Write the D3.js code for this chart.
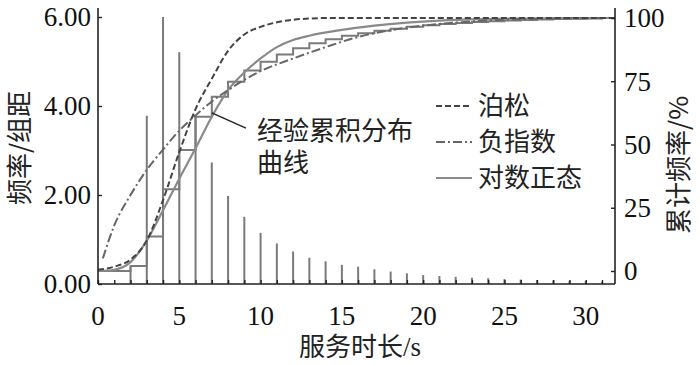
<!DOCTYPE html>
<html>
<head>
<meta charset="utf-8">
<script src="https://cdn.jsdelivr.net/npm/d3@7"></script>
<style>
  body { margin: 0; background: #fff; }
  .tick-num { font-family: "Liberation Serif", "DejaVu Serif", serif; font-size: 27px; fill: #111; }
  .cjk { font-family: "Noto Sans CJK SC", sans-serif; font-size: 26px; fill: #222; }
  .serif { font-family: "Liberation Serif", serif; }
</style>
</head>
<body>
<div id="chart"></div>
<script>
// service time bins (s) and frequency / bin width
var binX = [2, 3, 4, 5, 6, 7, 8, 9, 10, 11, 12, 13, 14, 15, 16, 17, 18, 19, 20, 21, 22, 23, 24, 25, 26, 27, 28, 29, 30, 31];
var binFreq = [0.38, 3.78, 6.0, 5.21, 3.8, 2.73, 1.98, 1.51, 1.15, 0.91, 0.73, 0.59, 0.51, 0.43, 0.39, 0.33, 0.28, 0.24, 0.2, 0.18, 0.16, 0.14, 0.13, 0.11, 0.10, 0.09, 0.08, 0.07, 0.07, 0.05];

// empirical cumulative distribution (%), step after each x
var ecdfX = [0, 2, 3, 4, 5, 6, 7, 8, 9, 10, 11, 12, 13, 14, 15, 16, 17, 18, 19, 20, 21, 22, 23, 24, 25, 26, 27, 28, 29, 30, 31, 31.8];
var ecdfY = [0, 2, 13.6, 32.3, 47.8, 61, 68.9, 74.8, 79.2, 82.7, 85.6, 88, 90, 91.6, 93, 94, 95, 95.8, 96.5, 97.1, 97.6, 98, 98.4, 98.7, 99, 99.2, 99.4, 99.6, 99.7, 99.85, 100, 100];

// fitted cumulative curves (%)
var poissonX = [0, 1, 2, 3, 4, 5, 6, 7, 8, 9, 10, 11, 12, 13, 14, 16, 20, 31.8];
var poissonY = [0.5, 1.7, 4.5, 12, 28, 47, 64, 76, 87, 93.5, 96.5, 98.3, 99.3, 99.8, 100, 100, 100, 100];

var expX = [0.3, 1, 2, 3, 4, 5, 6, 7, 8, 9, 10, 12, 14, 16, 18, 20, 22, 24, 26, 28, 31.8];
var expY = [5, 18, 30, 40, 48, 55.5, 61.5, 67, 71.5, 75.5, 79, 84, 88.5, 92.5, 95.2, 97, 98.2, 99, 99.5, 99.8, 100];

var lognX = [0, 1, 2, 3, 4, 5, 6, 7, 8, 9, 10, 11, 12, 13, 15, 17, 19, 21, 24, 28, 31.8];
var lognY = [0, 0.5, 3.5, 12, 24, 36.5, 48.5, 61, 71.5, 78.5, 84, 88.5, 91.3, 93, 95.3, 97, 98.2, 99, 99.6, 99.9, 100];

var leftTicks = [0, 2, 4, 6];
var rightTicks = [0, 25, 50, 75, 100];
var xTicks = [0, 5, 10, 15, 20, 25, 30];

var legendNames = ["泊松", "负指数", "对数正态"];

var width = 700, height = 365;

var svg = d3.select("#chart").append("svg")
    .attr("width", width)
    .attr("height", height);

// scales
var x = d3.scaleLinear().domain([0, 31.8]).range([98, 615]);
var yL = d3.scaleLinear().domain([0, 6]).range([284, 17]);
var yR = d3.scaleLinear().domain([0, 100]).range([271, 18]);

var axisTop = 8;

// histogram bars (vertical lines)
svg.selectAll(".bar")
    .data(binX)
    .enter().append("line")
    .attr("class", "bar")
    .attr("x1", function(d){ return x(d); })
    .attr("x2", function(d){ return x(d); })
    .attr("y1", yL(0))
    .attr("y2", function(d, i){ return yL(binFreq[i]); })
    .attr("stroke", "#7a7a7a")
    .attr("stroke-width", 2);

function pts(xs, ys){
    return xs.map(function(d, i){ return [d, ys[i]]; });
}

var stepLine = d3.line()
    .x(function(d){ return x(d[0]); })
    .y(function(d){ return yR(d[1]); })
    .curve(d3.curveStepAfter);

var smoothLine = d3.line()
    .x(function(d){ return x(d[0]); })
    .y(function(d){ return yR(d[1]); })
    .curve(d3.curveMonotoneX);

svg.append("path")
    .attr("d", stepLine(pts(ecdfX, ecdfY)))
    .attr("fill", "none")
    .attr("stroke", "#7a7a7a")
    .attr("stroke-width", 2);

svg.append("path")
    .attr("d", smoothLine(pts(lognX, lognY)))
    .attr("fill", "none")
    .attr("stroke", "#8a8a8a")
    .attr("stroke-width", 2.2);

svg.append("path")
    .attr("d", smoothLine(pts(expX, expY)))
    .attr("fill", "none")
    .attr("stroke", "#666")
    .attr("stroke-width", 2)
    .attr("stroke-dasharray", "9,3,2,3");

svg.append("path")
    .attr("d", smoothLine(pts(poissonX, poissonY)))
    .attr("fill", "none")
    .attr("stroke", "#444")
    .attr("stroke-width", 2)
    .attr("stroke-dasharray", "6,3");

// axes frame
var frame = svg.append("g").attr("stroke", "#222").attr("stroke-width", 1.6);
frame.append("line").attr("x1", x(0)).attr("x2", x(0)).attr("y1", axisTop).attr("y2", yL(0));
frame.append("line").attr("x1", x(31.8)).attr("x2", x(31.8)).attr("y1", axisTop).attr("y2", yL(0));
frame.append("line").attr("x1", x(0)).attr("x2", x(31.8)).attr("y1", yL(0)).attr("y2", yL(0));

// x axis: ticks inward every 1 s, labels every 5
var xAxis = d3.axisBottom(x)
    .tickValues(d3.range(0, 32, 1))
    .tickSizeInner(-4)
    .tickSizeOuter(0)
    .tickFormat("");
var gx = svg.append("g").attr("transform", "translate(0," + yL(0) + ")").call(xAxis);
gx.select(".domain").remove();
gx.selectAll("line").attr("stroke", "#222").attr("stroke-width", 1.4);

svg.selectAll(".xlab")
    .data(xTicks)
    .enter().append("text")
    .attr("class", "tick-num")
    .attr("x", function(d){ return x(d); })
    .attr("y", 325)
    .attr("text-anchor", "middle")
    .text(function(d){ return d; });

// left axis
var gl = svg.append("g").attr("transform", "translate(" + x(0) + ",0)")
    .call(d3.axisRight(yL).tickValues(leftTicks).tickSizeInner(4).tickSizeOuter(0).tickFormat(""));
gl.select(".domain").remove();
gl.selectAll("line").attr("stroke", "#222").attr("stroke-width", 1.4);

svg.selectAll(".llab")
    .data(leftTicks)
    .enter().append("text")
    .attr("class", "tick-num")
    .attr("x", 91)
    .attr("y", function(d){ return yL(d); })
    .attr("dy", "0.35em")
    .attr("text-anchor", "end")
    .text(function(d){ return d3.format(".2f")(d); });

// right axis
var gr = svg.append("g").attr("transform", "translate(" + x(31.8) + ",0)")
    .call(d3.axisLeft(yR).tickValues(rightTicks).tickSizeInner(4).tickSizeOuter(0).tickFormat(""));
gr.select(".domain").remove();
gr.selectAll("line").attr("stroke", "#222").attr("stroke-width", 1.4);

svg.selectAll(".rlab")
    .data(rightTicks)
    .enter().append("text")
    .attr("class", "tick-num")
    .attr("x", 624)
    .attr("y", function(d){ return yR(d); })
    .attr("dy", "0.35em")
    .attr("text-anchor", "start")
    .text(function(d){ return d; });

// axis titles
svg.append("text")
    .attr("class", "cjk")
    .attr("text-anchor", "middle")
    .attr("transform", "translate(29,148) rotate(-90)")
    .text("频率/组距");

svg.append("text")
    .attr("class", "cjk")
    .attr("text-anchor", "middle")
    .attr("transform", "translate(688,165) rotate(-90)")
    .text("累计频率/%");

var xt = svg.append("text")
    .attr("class", "cjk")
    .attr("x", 360)
    .attr("y", 356)
    .attr("font-size", 25)
    .attr("text-anchor", "middle");
xt.append("tspan").text("服务时长");
xt.append("tspan").attr("class", "serif").attr("font-size", 27).text("/s");

// annotation for the empirical curve
svg.append("line")
    .attr("x1", x(7)).attr("y1", yR(62.5))
    .attr("x2", x(9.1)).attr("y2", yR(56.5))
    .attr("stroke", "#222").attr("stroke-width", 1.4);

var note = svg.append("text").attr("class", "cjk")
    .attr("x", 257).attr("y", 140);
note.append("tspan").attr("x", 257).text("经验累积分布");
note.append("tspan").attr("x", 257).attr("dy", 32).text("曲线");

// legend
var legendStyles = [
    { dash: "6,3", color: "#444" },
    { dash: "9,3,2,3", color: "#666" },
    { dash: null, color: "#8a8a8a" }
];

var leg = svg.selectAll(".legend")
    .data(legendNames)
    .enter().append("g")
    .attr("class", "legend")
    .attr("transform", function(d, i){ return "translate(436," + (106 + i * 36) + ")"; });

leg.append("line")
    .attr("x1", 0).attr("x2", 36)
    .attr("y1", 0).attr("y2", 0)
    .attr("stroke", function(d, i){ return legendStyles[i].color; })
    .attr("stroke-width", 2)
    .attr("stroke-dasharray", function(d, i){ return legendStyles[i].dash; });

leg.append("text")
    .attr("class", "cjk")
    .attr("x", 42)
    .attr("dy", "0.36em")
    .text(function(d){ return d; });
</script>
</body>
</html>
